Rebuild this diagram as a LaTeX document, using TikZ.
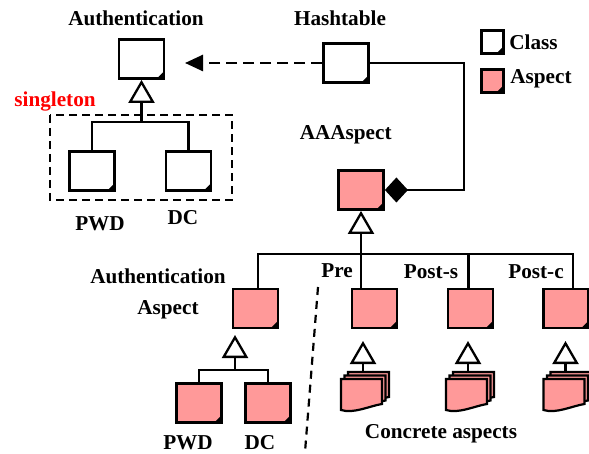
\documentclass[tikz,border=0pt]{standalone}
\usepackage{fontspec}
\setmainfont{Liberation Serif}
\usepackage{xcolor}
\definecolor{aspect-pink}{HTML}{FF9999}
\definecolor{singleton-red}{HTML}{FF0000}
\usetikzlibrary{arrows.meta}

\tikzset{
  classbox/.style={draw, line width=1.4pt, fill=white, inner sep=0pt,
    minimum width=22.5pt, minimum height=19.5pt,
    path picture={\fill[black] (path picture bounding box.south east)
      -- ++(-3.6pt,0) -- ++(3.6pt,3.6pt) -- cycle;}},
  aspectbox/.style={classbox, fill=aspect-pink},
  legendbox/.style={classbox, minimum width=11pt, minimum height=11.5pt},
  tag/.style={font=\fontsize{10.6}{12}\selectfont\bfseries, inner sep=0pt},
  conn/.style={line width=1.15pt},
  inherit/.style={conn, -{Triangle[open, length=11.5pt, width=13pt]}},
  docstack/.pic={
    \foreach \k in {2,1,0}{
      \filldraw[fill=aspect-pink, line width=1.1pt, shift={(3.5*\k,-3.5*\k)}]
        (-20.5,31) -- (-20.5,0) -- (20.5,0) -- (20.5,25)
        .. controls (8,27) and (-8,35) .. cycle;
    }
    \coordinate (-top) at (1.5,-7);
  }
}

\begin{document}
\begin{tikzpicture}[x=0.5pt, y=-0.5pt]

  \useasboundingbox (0,0) rectangle (589,454);

  % Legend
  \node[legendbox] (lclass) at (492.5,42) {};
  \node[legendbox, fill=aspect-pink] (laspect) at (492.5,81) {};
  \node[tag, anchor=west] (lclasstxt) at (509,42) {Class};
  \node[tag, anchor=west] (laspecttxt) at (510,79) {Aspect};

  % Authentication classes
  \node[tag] (authtxt) at (136,18) {Authentication};
  \node[classbox] (auth) at (141.5,59) {};
  \node[classbox] (pwdc) at (92,171) {};
  \node[classbox] (dcc) at (188.5,171) {};
  \node[tag] (pwdctxt) at (100,224) {PWD};
  \node[tag] (dcctxt) at (183,218) {DC};
  \node[tag, text=singleton-red] (singtxt) at (55,101) {singleton};
  \draw[line width=1.1pt, dash pattern=on 4pt off 2.5pt] (50,115) rectangle (232,200);

  \coordinate (authjoin) at (141.5,122);
  \draw[conn] (pwdc.north) |- (authjoin) -| (dcc.north);
  \draw[inherit] (authjoin) -- (auth.south);

  % Hashtable
  \node[tag] (hashtxt) at (340,18) {Hashtable};
  \node[classbox] (hash) at (346,63) {};
  \coordinate (authtip) at (185,63);
  \draw[line width=1.3pt, dash pattern=on 5.5pt off 3pt,
    -{Triangle[length=9pt, width=8pt]}] (hash.west) -- (authtip);

  % AAAspect
  \node[tag, anchor=east] (aaatxt) at (392,135) {AAAspect};
  \node[aspectbox] (aaa) at (361,190) {};
  \draw[conn, {Diamond[length=11.5pt, width=12.5pt]}-] (aaa.east) -- ++(79,0) |- (hash.east);

  % Aspects below AAAspect
  \node[tag] (authasptxt) at (158,276) {Authentication};
  \node[tag] (authasptxt2) at (168,310) {Aspect};
  \node[tag] (pretxt) at (337,271) {Pre};
  \node[tag] (poststxt) at (431,272) {Post-s};
  \node[tag] (postctxt) at (536,272) {Post-c};
  \node[aspectbox] (authasp) at (255.5,308.5) {};
  \node[aspectbox] (pre) at (374.5,308.5) {};
  \node[aspectbox] (posts) at (470.5,308.5) {};
  \node[aspectbox] (postc) at (566,308.5) {};

  \coordinate (aajoin) at (361,254);
  \draw[inherit] (aajoin) -- (aaa.south);
  \draw[conn] ([xshift=1.2pt]authasp.north) |- (aajoin) -| ([xshift=3.5pt]postc.north);
  \draw[conn] (aajoin) -- (aajoin |- pre.north);
  \draw[conn] ([xshift=-1pt]posts.north) -- ([xshift=-1pt]posts.north |- aajoin);

  % Authentication aspects
  \node[aspectbox] (pwda) at (199,403) {};
  \node[aspectbox] (dca) at (268,403) {};
  \node[tag] (pwdatxt) at (188,443) {PWD};
  \node[tag] (dcatxt) at (260,443) {DC};
  \coordinate (asjoin) at (235,370);
  \coordinate (astip) at (235,335);
  \draw[conn] (pwda.north) |- (asjoin) -| (dca.north);
  \draw[inherit] (asjoin) -- (astip);

  % Separator
  \draw[line width=1.1pt, dash pattern=on 4pt off 3pt] (318,287) -- (305,452);

  % Concrete aspects
  \pic (prestack) at (361.5,379) {docstack};
  \pic (postsstack) at (466.5,379) {docstack};
  \pic (postcstack) at (564,379) {docstack};
  \draw[inherit] (prestack-top) -- ++(0,-31);
  \draw[inherit] (postsstack-top) -- ++(0,-31);
  \draw[inherit] (postcstack-top) -- ++(0,-31);
  \node[tag] (concretetxt) at (441,434) {Concrete aspects};

\end{tikzpicture}
\end{document}
